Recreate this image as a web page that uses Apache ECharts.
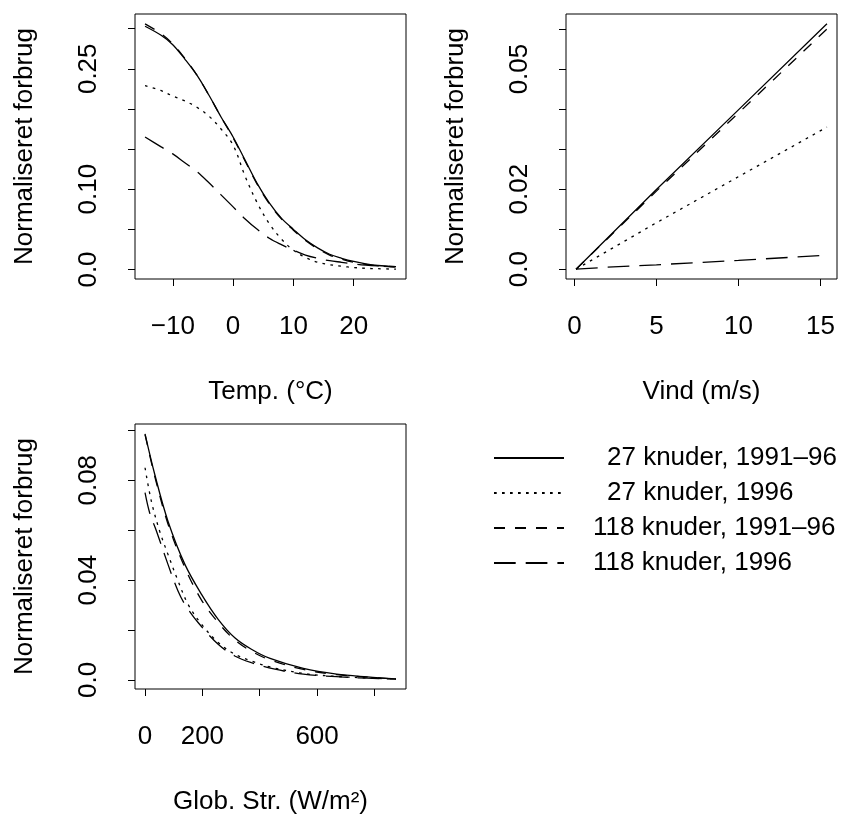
<!DOCTYPE html>
<html>
<head>
<meta charset="utf-8">
<script src="https://cdn.jsdelivr.net/npm/echarts@6/dist/echarts.min.js"></script>
<style>
html,body{margin:0;padding:0;background:#fff;}
#chart{width:849px;height:817px;}
</style>
</head>
<body>
<div id="chart"></div>
<script>
// ---------- data ----------
const seriesNames = ['27 knuder, 1991\u201396', '27 knuder, 1996', '118 knuder, 1991\u201396', '118 knuder, 1996'];

// Panel 1: temperature
const tempX = [-14.6,-12,-10,-8,-6,-4,-2,0,2,4,6,8,10,12,14,16,18,20,22,24,27];
const temp_27_9196  = [0.303,0.292,0.280,0.262,0.242,0.217,0.190,0.165,0.136,0.107,0.083,0.064,0.050,0.037,0.027,0.019,0.014,0.010,0.007,0.005,0.0035];
const temp_27_96    = [0.229,0.223,0.216,0.210,0.202,0.191,0.175,0.155,0.116,0.083,0.057,0.038,0.024,0.015,0.009,0.006,0.004,0.0025,0.0015,0.001,0.0004];
const temp_118_9196 = [0.306,0.294,0.281,0.263,0.242,0.217,0.190,0.164,0.135,0.106,0.082,0.063,0.049,0.036,0.026,0.018,0.013,0.009,0.0065,0.0045,0.003];
const temp_118_96   = [0.165,0.153,0.144,0.133,0.122,0.108,0.093,0.078,0.063,0.050,0.039,0.031,0.024,0.018,0.014,0.011,0.009,0.007,0.0055,0.0045,0.0035];
const tempXTicks = [-10,0,10,20];
const tempXLabels = ['\u221210','0','10','20'];
const tempYTicks = [0,0.05,0.10,0.15,0.20,0.25,0.30];
const tempYLabelVals = [0,0.10,0.25];
const tempYLabels = ['0.0','0.10','0.25'];

// Panel 2: wind
const windX_27_9196 = [0.1,5,10,15.4];
const wind_27_9196  = [0,0.0199,0.0398,0.0613];
const windX_27_96   = [0.1,5,10,15.4];
const wind_27_96    = [0,0.0116,0.0231,0.0355];
const windX_118_9196 = [0.1,5,10,15.4];
const wind_118_9196 = [0,0.0195,0.0390,0.0600];
const windX_118_96  = [0.1,2,5,10,15];
const wind_118_96   = [0,0.0005,0.0011,0.0022,0.0034];
const windXTicks = [0,5,10,15];
const windXLabels = ['0','5','10','15'];
const windYTicks = [0,0.01,0.02,0.03,0.04,0.05,0.06];
const windYLabelVals = [0,0.02,0.05];
const windYLabels = ['0.0','0.02','0.05'];

// Panel 3: global radiation
const globX_27_9196 = [0,34,80,139,197,255,313,371,436,552,668,775,875];
const glob_27_9196  = [0.0986,0.0823,0.0636,0.0463,0.0343,0.0243,0.0169,0.0123,0.0086,0.0046,0.0023,0.0012,0.0004];
const globX_118_9196 = [0,34,80,139,197,255,313,371,436,552,668,775,875];
const glob_118_9196 = [0.0983,0.0815,0.0625,0.0450,0.0320,0.0230,0.0160,0.0115,0.0080,0.0042,0.0021,0.0011,0.0004];
const globX_27_96   = [0,22,51,80,115,150,197,255,313,371,436,552,668,775,875];
const glob_27_96    = [0.0850,0.0716,0.0596,0.0503,0.0397,0.0303,0.0223,0.0150,0.0103,0.0076,0.0052,0.0026,0.0014,0.0008,0.0003];
const globX_118_96  = [0,16,40,80,115,139,185,255,313,371,453,552,668,775,875];
const glob_118_96   = [0.0750,0.0670,0.0596,0.0463,0.0356,0.0303,0.0230,0.0143,0.0096,0.0069,0.0043,0.0023,0.0013,0.0007,0.0003];
const globXTicks = [0,200,400,600,800];
const globXLabelVals = [0,200,600];
const globXLabels = ['0','200','600'];
const globYTicks = [0,0.02,0.04,0.06,0.08,0.10];
const globYLabelVals = [0,0.04,0.08];
const globYLabels = ['0.0','0.04','0.08'];

const xTitles = ['Temp. (\u00b0C)', 'Vind (m/s)', 'Glob. Str. (W/m\u00b2)'];
const yTitle = 'Normaliseret forbrug';

// ---------- build ----------
const FONT = 'Liberation Sans, Arial, Helvetica, sans-serif';
const FS = 26;
const dashes = ['solid', [2.7, 5.3], [11, 10], [21.7, 10]];
const zip = (xs, ys) => xs.map((x, i) => [x, ys[i]]);

function padRange(arrs) {
  let mn = Infinity, mx = -Infinity;
  arrs.forEach(a => a.forEach(v => { if (v < mn) mn = v; if (v > mx) mx = v; }));
  const p = (mx - mn) * 0.04;
  return [mn - p, mx + p];
}

const panels = [
  {
    grid: {left: 135, top: 14, width: 271, height: 265},
    xs: [tempX, tempX, tempX, tempX],
    ys: [temp_27_9196, temp_27_96, temp_118_9196, temp_118_96],
    xTicks: tempXTicks, xLabelVals: tempXTicks, xLabels: tempXLabels,
    yTicks: tempYTicks, yLabelVals: tempYLabelVals, yLabels: tempYLabels,
    xTitle: xTitles[0], smooth: 0.35
  },
  {
    grid: {left: 566, top: 14, width: 271, height: 265},
    xs: [windX_27_9196, windX_27_96, windX_118_9196, windX_118_96],
    ys: [wind_27_9196, wind_27_96, wind_118_9196, wind_118_96],
    xTicks: windXTicks, xLabelVals: windXTicks, xLabels: windXLabels,
    yTicks: windYTicks, yLabelVals: windYLabelVals, yLabels: windYLabels,
    xTitle: xTitles[1], smooth: false
  },
  {
    grid: {left: 135, top: 424, width: 271, height: 265},
    xs: [globX_27_9196, globX_27_96, globX_118_9196, globX_118_96],
    ys: [glob_27_9196, glob_27_96, glob_118_9196, glob_118_96],
    xTicks: globXTicks, xLabelVals: globXLabelVals, xLabels: globXLabels,
    yTicks: globYTicks, yLabelVals: globYLabelVals, yLabels: globYLabels,
    xTitle: xTitles[2], smooth: 0.35
  }
];

const grids = [], xAxes = [], yAxes = [], series = [];
panels.forEach((p, gi) => {
  grids.push(Object.assign({show: true, borderColor: '#000', borderWidth: 1, backgroundColor: 'transparent', containLabel: false}, p.grid));
  const xr = padRange(p.xs);
  const yr = padRange(p.ys);
  const fmt = (vals, labels) => (v) => {
    for (let i = 0; i < vals.length; i++) if (Math.abs(vals[i] - v) < 1e-9) return labels[i];
    return '';
  };
  xAxes.push({
    type: 'value', gridIndex: gi, min: xr[0], max: xr[1],
    axisLine: {show: false, onZero: false},
    splitLine: {show: false},
    axisTick: {show: true, length: 7, customValues: p.xTicks, lineStyle: {color: '#000', width: 1}},
    axisLabel: {show: true, customValues: p.xLabelVals, formatter: fmt(p.xLabelVals, p.xLabels), margin: 35,
      color: '#000', fontSize: FS, fontFamily: FONT, showMinLabel: true, showMaxLabel: true, hideOverlap: false},
    name: p.xTitle, nameLocation: 'middle', nameGap: 100,
    nameTextStyle: {color: '#000', fontSize: FS, fontFamily: FONT}
  });
  yAxes.push({
    type: 'value', gridIndex: gi, min: yr[0], max: yr[1],
    axisLine: {show: false, onZero: false},
    splitLine: {show: false},
    axisTick: {show: true, length: 7, customValues: p.yTicks, lineStyle: {color: '#000', width: 1}},
    axisLabel: {show: true, customValues: p.yLabelVals, formatter: fmt(p.yLabelVals, p.yLabels), margin: 33, rotate: 90,
      color: '#000', fontSize: FS, fontFamily: FONT, showMinLabel: true, showMaxLabel: true, hideOverlap: false},
    name: yTitle, nameLocation: 'middle', nameGap: 97, nameRotate: 90,
    nameTextStyle: {color: '#000', fontSize: FS, fontFamily: FONT}
  });
  for (let k = 0; k < 4; k++) {
    series.push({
      type: 'line', name: seriesNames[k], xAxisIndex: gi, yAxisIndex: gi,
      data: zip(p.xs[k], p.ys[k]),
      symbol: 'none', showSymbol: false, smooth: p.smooth,
      lineStyle: {color: '#000', width: 1.3, type: dashes[k]},
      itemStyle: {color: '#000'},
      animation: false, silent: true
    });
  }
});

const chart = echarts.init(document.getElementById('chart'), null, {renderer: 'canvas'});
chart.setOption({
  animation: false,
  backgroundColor: '#fff',
  grid: grids,
  xAxis: xAxes,
  yAxis: yAxes,
  legend: {
    data: seriesNames,
    orient: 'vertical',
    left: 488, top: 440,
    itemWidth: 70, itemHeight: 26, itemGap: 9,
    itemStyle: {opacity: 0},
    formatter: (name) => name.indexOf('27') === 0 ? '{p|' + name + '}' : '{q|' + name + '}',
    textStyle: {color: '#000', fontSize: FS, fontFamily: FONT,
      rich: {
        p: {fontSize: FS, fontFamily: FONT, color: '#000', padding: [0, 0, 0, 38]},
        q: {fontSize: FS, fontFamily: FONT, color: '#000', padding: [0, 0, 0, 24]}
      }
    },
    selectedMode: false
  },
  series: series
});
</script>
</body>
</html>
